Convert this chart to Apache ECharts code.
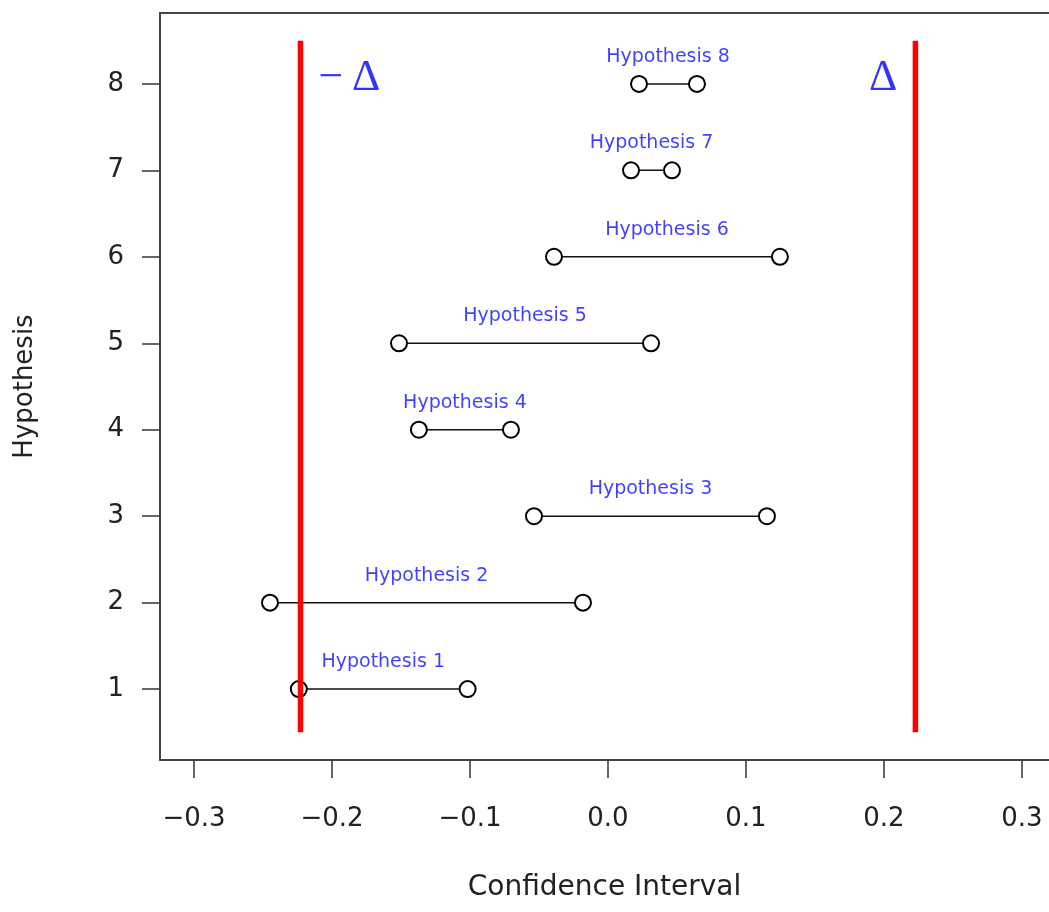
<!DOCTYPE html>
<html>
<head>
<meta charset="utf-8">
<script src="https://cdn.jsdelivr.net/npm/echarts@6/dist/echarts.min.js"></script>
<style>
html,body{margin:0;padding:0;background:#fff;}
#chart{width:1049px;height:912px;}
</style>
</head>
<body>
<div id="chart"></div>
<script>
// ---- data ----
const hypotheses = [1, 2, 3, 4, 5, 6, 7, 8];
const lower = [-0.2240, -0.2449, -0.0536, -0.1370, -0.1514, -0.0391, 0.0167, 0.0225];
const upper = [-0.1017, -0.0181, 0.1152, -0.0703, 0.0312, 0.1246, 0.0464, 0.0645];
const delta = 0.2228;
const deltaSpan = [0.5, 8.5];
const xTicks = [-0.3, -0.2, -0.1, 0.0, 0.1, 0.2, 0.3];
const yTicks = [1, 2, 3, 4, 5, 6, 7, 8];
const xRange = [-0.3246, 0.3196];
const yRange = [0.18, 8.82];

const chart = echarts.init(document.getElementById('chart'), null, {renderer: 'canvas'});

const sans = 'DejaVu Sans';
const frame = {color: '#444', width: 2};
const series = [];

// confidence intervals
hypotheses.forEach(function (h, i) {
  series.push({
    type: 'line',
    data: [[lower[i], h], [upper[i], h]],
    symbol: 'emptyCircle',
    symbolSize: 16,
    showSymbol: true,
    itemStyle: {color: '#000', borderColor: '#111', borderWidth: 2},
    lineStyle: {color: '#111', width: 1.5},
    silent: true,
    z: 4
  });
});

// red equivalence bounds
[-delta, delta].forEach(function (d) {
  series.push({
    type: 'line',
    data: [[d, deltaSpan[0]], [d, deltaSpan[1]]],
    symbol: 'none',
    lineStyle: {color: '#ff0000', width: 5.5},
    silent: true,
    z: 6
  });
});

// hypothesis labels
series.push({
  type: 'scatter',
  data: hypotheses.map(function (h, i) { return [(lower[i] + upper[i]) / 2, h]; }),
  symbolSize: 0,
  silent: true,
  label: {
    show: true,
    position: 'inside',
    offset: [0, -27],
    formatter: function (p) { return 'Hypothesis ' + p.value[1]; },
    color: '#1010ff',
    fontFamily: sans,
    fontSize: 19
  },
  z: 5
});

// delta labels
series.push({
  type: 'scatter',
  data: [
    {value: [-delta, 8], label: {position: 'right', formatter: '\u2212\u2009\u0394', distance: 18}},
    {value: [delta, 8], label: {position: 'left', formatter: '\u0394', distance: 18}}
  ],
  symbolSize: 0,
  silent: true,
  label: {
    show: true,
    offset: [0, -5],
    color: '#0000ff',
    fontFamily: 'Liberation Serif',
    fontSize: 44
  },
  z: 5
});

chart.setOption({
  animation: false,
  backgroundColor: '#ffffff',
  grid: {left: 160, right: 0, top: 13, bottom: 152},
  xAxis: [{
    type: 'value',
    min: xRange[0], max: xRange[1],
    name: 'Confidence Interval',
    nameLocation: 'middle',
    nameGap: 114,
    nameTextStyle: {fontFamily: sans, fontSize: 28, color: '#222'},
    axisLine: {show: true, onZero: false, lineStyle: frame},
    axisTick: {show: true, customValues: xTicks, length: 18, inside: false, lineStyle: {color: '#333', width: 1.5}},
    axisLabel: {
      customValues: xTicks,
      margin: 46,
      fontFamily: sans, fontSize: 26, color: '#222',
      formatter: function (v) { return v.toFixed(1).replace('-', '\u2212'); }
    },
    splitLine: {show: false}
  }, {
    type: 'value',
    position: 'top',
    min: xRange[0], max: xRange[1],
    axisLine: {show: true, onZero: false, lineStyle: frame},
    axisTick: {show: false},
    axisLabel: {show: false},
    splitLine: {show: false}
  }],
  yAxis: {
    type: 'value',
    min: yRange[0], max: yRange[1],
    name: 'Hypothesis',
    nameLocation: 'middle',
    nameGap: 122,
    nameRotate: 90,
    nameTextStyle: {fontFamily: sans, fontSize: 26, color: '#222'},
    axisLine: {show: true, onZero: false, lineStyle: frame},
    axisTick: {show: true, customValues: yTicks, length: 18, inside: false, lineStyle: {color: '#333', width: 1.5}},
    axisLabel: {
      customValues: yTicks,
      margin: 36,
      fontFamily: sans, fontSize: 26, color: '#222',
      formatter: function (v) { return String(v); }
    },
    splitLine: {show: false}
  },
  series: series
});
</script>
</body>
</html>
